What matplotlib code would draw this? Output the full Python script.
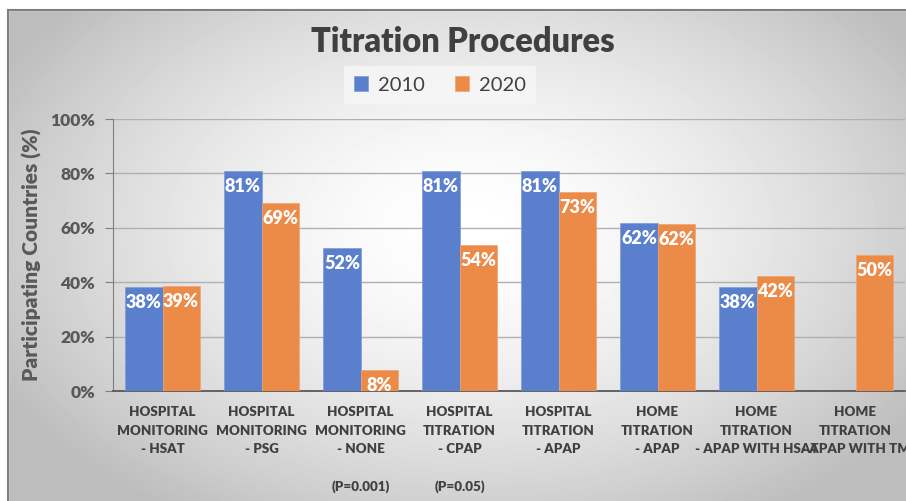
import numpy as np
import matplotlib
matplotlib.use("Agg")
import matplotlib.pyplot as plt
from matplotlib.lines import Line2D
from matplotlib.patches import Rectangle

categories = [
    "HOSPITAL\nMONITORING\n- HSAT",
    "HOSPITAL\nMONITORING\n- PSG",
    "HOSPITAL\nMONITORING\n- NONE\n\n(P=0.001)",
    "HOSPITAL\nTITRATION\n- CPAP\n\n(P=0.05)",
    "HOSPITAL\nTITRATION\n- APAP",
    "HOME\nTITRATION\n- APAP",
    "HOME\nTITRATION\n- APAP WITH HSAT",
    "HOME\nTITRATION\n- APAP WITH TM",
]
vals_2010 = [38.1, 80.9, 52.4, 80.9, 80.9, 61.9, 38.1, np.nan]
vals_2020 = [38.5, 69.2, 7.7, 53.8, 73.1, 61.5, 42.3, 50.0]
yticks = [0, 20, 40, 60, 80, 100]

plt.rcParams["font.family"] = ["Lato", "DejaVu Sans"]

W, H = 906, 501
fig = plt.figure(figsize=(W / 100, H / 100), dpi=100)

# radial grey background
bg = fig.add_axes([0, 0, 1, 1], zorder=-10)
yy, xx = np.mgrid[0:H, 0:W]
r = np.sqrt(((xx - 470) / 520.0) ** 2 + ((yy - 230) / 330.0) ** 2)
shade = np.clip(1.0 - 0.25 * r ** 1.6, 0.74, 1.0)
bg.imshow(shade, cmap="gray", vmin=0, vmax=1, aspect="auto", extent=[0, W, H, 0])
bg.add_patch(Rectangle((0, 0), W, 10, color="white"))
bg.add_patch(Rectangle((0, 0), 8, H, color="white"))
bg.add_line(Line2D([8, W], [10, 10], color="#7f7f7f", lw=1.5))
bg.add_line(Line2D([8, 8], [10, H], color="#7f7f7f", lw=1.5))
bg.set_xlim(0, W)
bg.set_ylim(H, 0)
bg.axis("off")

ax = fig.add_axes([113 / W, 110 / H, 792 / W, 272 / H])
ax.set_facecolor("none")
x = np.arange(len(categories))
w = 0.375
b1 = ax.bar(x - w / 2, vals_2010, w, color="#5a80cd", edgecolor="#7f9ad6", lw=0.5, label="2010", zorder=3)
b2 = ax.bar(x + w / 2, vals_2020, w, color="#ec8a47", edgecolor="#f0a470", lw=0.5, label="2020", zorder=3)

for bars, vals in [(b1, vals_2010), (b2, vals_2020)]:
    for rect, v in zip(bars, vals):
        if np.isnan(v):
            continue
        ax.annotate(f"{int(np.floor(v + 0.5))}%", (rect.get_x() + rect.get_width() / 2, v),
                    xytext=(0, -5), textcoords="offset points", ha="center", va="top",
                    color="white", fontsize=13, fontweight="heavy", zorder=4)

ax.set_xlim(-0.5, len(categories) - 0.5)
ax.set_ylim(0, 100)
ax.set_yticks(yticks)
ax.set_yticklabels([f"{t}%" for t in yticks], fontsize=12.5, fontweight="heavy", color="#595959")
ax.set_xticks(x)
ax.set_xticklabels(categories, fontsize=9.6, fontweight="heavy", color="#404040", linespacing=1.65)
ax.tick_params(axis="x", length=0, pad=11)
ax.tick_params(axis="y", length=6, color="#7f7f7f", pad=7)
ax.grid(axis="y", color="#b0b0b0", lw=1, zorder=0)
for s in ["top", "right"]:
    ax.spines[s].set_visible(False)
ax.spines["left"].set_color("#7f7f7f")
ax.spines["bottom"].set_color("#595959")
ax.spines["bottom"].set_linewidth(1.3)
ax.set_ylabel("Participating Countries (%)", fontsize=15, fontweight="heavy", color="#595959", labelpad=6)

fig.text(463 / W, 1 - 42 / H, "Titration Procedures", ha="center", va="center",
         fontsize=23.5, fontweight="heavy", color="#404040")
leg = fig.legend(loc="center", bbox_to_anchor=(440 / W, 1 - 85 / H), ncol=2, frameon=True,
                 fontsize=14.5, handlelength=0.7, handleheight=0.7, columnspacing=1.5,
                 handletextpad=0.5, fancybox=False, borderpad=0.5)
leg.get_frame().set_facecolor("#f7f7f7")
leg.get_frame().set_edgecolor("none")
for t in leg.get_texts():
    t.set_color("#404040")

fig.savefig("out.png", dpi=100)
